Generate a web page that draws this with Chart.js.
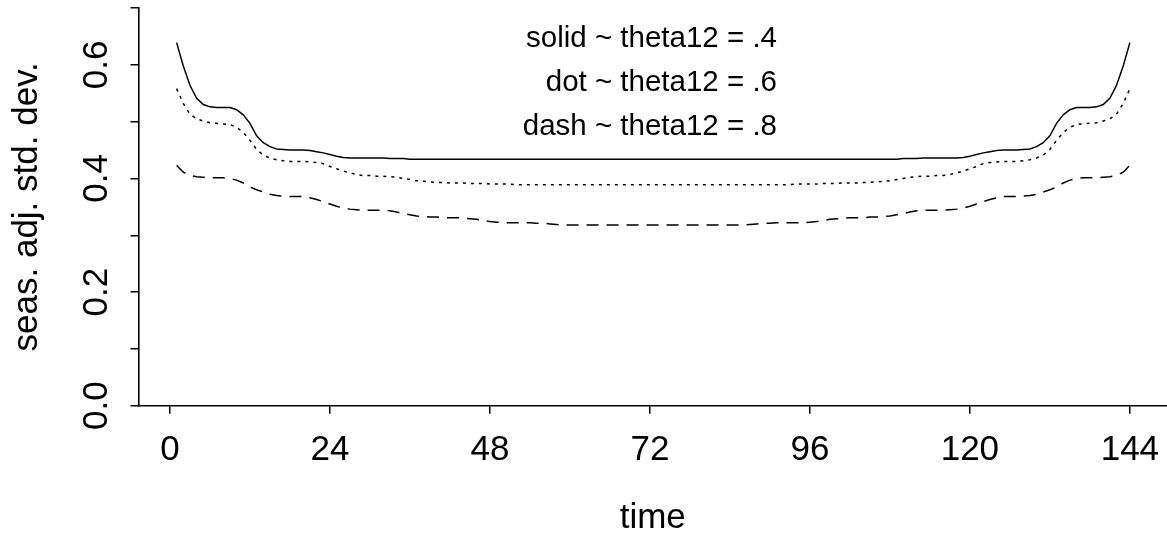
<!DOCTYPE html>
<html>
<head>
<meta charset="utf-8">
<script src="https://cdn.jsdelivr.net/npm/chart.js@4/dist/chart.umd.min.js"></script>
<style>
  html, body { margin: 0; padding: 0; background: #fff; }
  canvas { display: block; }
</style>
</head>
<body>
<canvas id="chart" width="1167" height="539"></canvas>
<script>
// months 1..144
const time = Array.from({length: 144}, (_, i) => i + 1);

// theta12 = .4 (solid)
const solid = [
  0.639, 0.598, 0.564, 0.541, 0.530, 0.526, 0.525, 0.525, 0.525, 0.521,
  0.512, 0.497, 0.475, 0.463, 0.456, 0.452, 0.451, 0.450, 0.450, 0.450,
  0.449, 0.447, 0.445, 0.442, 0.439, 0.437, 0.436, 0.436, 0.436, 0.436,
  0.436, 0.436, 0.435, 0.435, 0.435, 0.434, 0.434, 0.434, 0.434, 0.434,
  0.434, 0.434, 0.434, 0.434, 0.434, 0.434, 0.434, 0.434, 0.434, 0.434,
  0.434, 0.434, 0.434, 0.434, 0.434, 0.434, 0.434, 0.434, 0.434, 0.434,
  0.434, 0.434, 0.434, 0.434, 0.434, 0.434, 0.434, 0.434, 0.434, 0.434,
  0.434, 0.434,
  0.434, 0.434, 0.434, 0.434, 0.434, 0.434, 0.434, 0.434, 0.434, 0.434,
  0.434, 0.434, 0.434, 0.434, 0.434, 0.434, 0.434, 0.434, 0.434, 0.434,
  0.434, 0.434, 0.434, 0.434, 0.434, 0.434, 0.434, 0.434, 0.434, 0.434,
  0.434, 0.434, 0.434, 0.434, 0.434, 0.434, 0.434, 0.435, 0.435, 0.435,
  0.436, 0.436, 0.436, 0.436, 0.436, 0.436, 0.437, 0.439, 0.442, 0.445,
  0.447, 0.449, 0.450, 0.450, 0.450, 0.451, 0.452, 0.456, 0.463, 0.475,
  0.497, 0.512, 0.521, 0.525, 0.525, 0.525, 0.526, 0.530, 0.541, 0.564,
  0.598, 0.639
];

// theta12 = .6 (dot)
const dot = [
  0.558, 0.532, 0.513, 0.505, 0.501, 0.498, 0.497, 0.496, 0.495, 0.490,
  0.481, 0.467, 0.451, 0.441, 0.436, 0.433, 0.431, 0.430, 0.430, 0.430,
  0.429, 0.428, 0.426, 0.421, 0.417, 0.413, 0.410, 0.407, 0.405, 0.405,
  0.404, 0.404, 0.403, 0.402, 0.400, 0.398, 0.396, 0.395, 0.394, 0.393,
  0.393, 0.392, 0.392, 0.392, 0.391, 0.391, 0.391, 0.390, 0.390, 0.390,
  0.390, 0.389, 0.389, 0.389, 0.389, 0.389, 0.389, 0.389, 0.389, 0.389,
  0.389, 0.389, 0.389, 0.389, 0.389, 0.389, 0.389, 0.389, 0.389, 0.389,
  0.389, 0.389,
  0.389, 0.389, 0.389, 0.389, 0.389, 0.389, 0.389, 0.389, 0.389, 0.389,
  0.389, 0.389, 0.389, 0.389, 0.389, 0.389, 0.389, 0.389, 0.389, 0.389,
  0.389, 0.390, 0.390, 0.390, 0.390, 0.391, 0.391, 0.391, 0.392, 0.392,
  0.392, 0.393, 0.393, 0.394, 0.395, 0.396, 0.398, 0.400, 0.402, 0.403,
  0.404, 0.404, 0.405, 0.405, 0.407, 0.410, 0.413, 0.417, 0.421, 0.426,
  0.428, 0.429, 0.430, 0.430, 0.430, 0.431, 0.433, 0.436, 0.441, 0.451,
  0.467, 0.481, 0.490, 0.495, 0.496, 0.497, 0.498, 0.501, 0.505, 0.513,
  0.532, 0.558
];

// theta12 = .8 (dash)
const dash = [
  0.423, 0.411, 0.405, 0.403, 0.402, 0.401, 0.401, 0.401, 0.400, 0.397,
  0.392, 0.385, 0.380, 0.376, 0.372, 0.370, 0.369, 0.368, 0.368, 0.368,
  0.366, 0.363, 0.359, 0.355, 0.351, 0.348, 0.346, 0.345, 0.344, 0.344,
  0.344, 0.344, 0.343, 0.341, 0.338, 0.336, 0.334, 0.333, 0.332, 0.332,
  0.331, 0.331, 0.331, 0.330, 0.329, 0.328, 0.326, 0.324, 0.323, 0.322,
  0.322, 0.322, 0.322, 0.322, 0.321, 0.321, 0.320, 0.319, 0.318, 0.318,
  0.318, 0.318, 0.318, 0.318, 0.318, 0.318, 0.318, 0.318, 0.318, 0.318,
  0.318, 0.318,
  0.318, 0.318, 0.318, 0.318, 0.318, 0.318, 0.318, 0.318, 0.318, 0.318,
  0.318, 0.318, 0.318, 0.318, 0.319, 0.320, 0.321, 0.321, 0.322, 0.322,
  0.322, 0.322, 0.322, 0.323, 0.324, 0.326, 0.328, 0.329, 0.330, 0.331,
  0.331, 0.331, 0.332, 0.332, 0.333, 0.334, 0.336, 0.338, 0.341, 0.343,
  0.344, 0.344, 0.344, 0.344, 0.345, 0.346, 0.348, 0.351, 0.355, 0.359,
  0.363, 0.366, 0.368, 0.368, 0.368, 0.369, 0.370, 0.372, 0.376, 0.380,
  0.385, 0.392, 0.397, 0.400, 0.401, 0.401, 0.401, 0.402, 0.403, 0.405,
  0.411, 0.423
];

const xTicks = [0, 24, 48, 72, 96, 120, 144];
const yTicks = [0, 0.1, 0.2, 0.3, 0.4, 0.5, 0.6, 0.7];
const yLabelValues = [0, 0.2, 0.4, 0.6];
const yLabels = ['0.0', '0.2', '0.4', '0.6'];
const legendLines = ['solid ~ theta12 = .4', 'dot ~ theta12 = .6', 'dash ~ theta12 = .8'];

const FONT = 'Liberation Sans, Arial, Helvetica, sans-serif';

function points(values) {
  return time.map((t, i) => ({x: t, y: values[i]}));
}

function lineSet(label, values, dashPattern) {
  return {
    label: label,
    data: points(values),
    borderColor: '#000',
    borderWidth: 1.5,
    borderDash: dashPattern,
    pointRadius: 0,
    fill: false,
    tension: 0
  };
}

// rotated y labels, y title and the text legend (R style)
const rText = {
  id: 'rText',
  afterDraw(chart) {
    const ctx = chart.ctx;
    const y = chart.scales.y;
    ctx.save();
    ctx.fillStyle = '#000';

    ctx.font = '35px ' + FONT;
    ctx.textAlign = 'center';
    ctx.textBaseline = 'alphabetic';
    yLabelValues.forEach((v, i) => {
      ctx.save();
      ctx.translate(107, y.getPixelForValue(v));
      ctx.rotate(-Math.PI / 2);
      ctx.fillText(yLabels[i], 0, 0);
      ctx.restore();
    });

    ctx.save();
    ctx.translate(37, (chart.chartArea.top + chart.chartArea.bottom) / 2);
    ctx.rotate(-Math.PI / 2);
    ctx.fillText('seas. adj. std. dev.', 0, 0);
    ctx.restore();

    ctx.font = '29.5px ' + FONT;
    ctx.textAlign = 'right';
    legendLines.forEach((txt, i) => {
      ctx.fillText(txt, 777, 47 + i * 44);
    });
    ctx.restore();
  }
};

new Chart(document.getElementById('chart'), {
  type: 'line',
  data: {
    datasets: [
      lineSet('theta12 = .4', solid, []),
      lineSet('theta12 = .6', dot, [3, 5]),
      lineSet('theta12 = .8', dash, [12, 8])
    ]
  },
  options: {
    responsive: false,
    animation: false,
    layout: {padding: {top: 8, left: 0, right: 0, bottom: 0}},
    plugins: {
      legend: {display: false},
      tooltip: {enabled: false}
    },
    scales: {
      x: {
        type: 'linear',
        min: -4.72,
        max: 149.57,
        afterBuildTicks: (scale) => { scale.ticks = xTicks.map(v => ({value: v})); },
        afterFit: (scale) => {
          scale.height = 133.3;
          scale.paddingLeft = 0;
          scale.paddingRight = 0;
        },
        grid: {drawOnChartArea: false, drawTicks: true, tickLength: 8, color: '#000', lineWidth: 1.5},
        border: {display: true, color: '#000', width: 1.6},
        ticks: {
          color: '#000',
          font: {family: FONT, size: 35},
          padding: 16,
          maxRotation: 0,
          autoSkip: false
        },
        title: {
          display: true,
          text: 'time',
          color: '#000',
          font: {family: FONT, size: 35},
          padding: {top: 0, bottom: 0}
        }
      },
      y: {
        type: 'linear',
        min: 0,
        max: 0.7,
        afterBuildTicks: (scale) => { scale.ticks = yTicks.map(v => ({value: v})); },
        afterFit: (scale) => {
          scale.width = 138.5;
          scale.paddingTop = 0;
          scale.paddingBottom = 0;
        },
        grid: {drawOnChartArea: false, drawTicks: true, tickLength: 8, color: '#000', lineWidth: 1.5},
        border: {display: true, color: '#000', width: 1.6},
        ticks: {display: false}
      }
    }
  },
  plugins: [rText]
});
</script>
</body>
</html>
